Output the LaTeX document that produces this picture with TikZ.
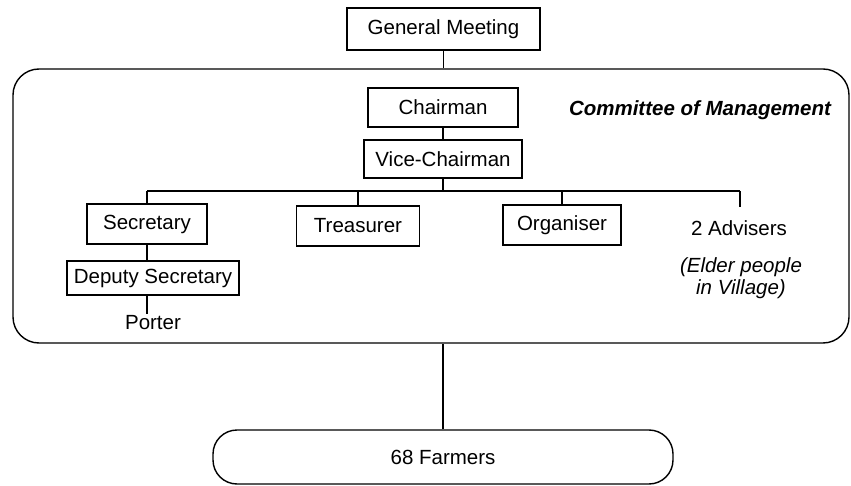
\documentclass[tikz,border=0pt]{standalone}
\usepackage{fontspec}
\setmainfont{Liberation Sans}
\begin{document}
\begin{tikzpicture}[x=1pt,y=-1pt,
  every node/.style={font=\fontsize{20.5}{22}\selectfont},
  post/.style={draw, line width=1.4pt, minimum height=#1, inner sep=0pt},
  post/.default=40pt,
  plain/.style={inner sep=2pt},
  link/.style={line width=1.4pt},
  frame/.style={draw, line width=1.4pt, rounded corners=26pt},
  pill/.style={draw, line width=1.4pt, rounded corners=24pt, minimum width=460pt, minimum height=54pt}]
  \useasboundingbox (0,0) rectangle (851,486);

  % top level
  \node[post=42pt, minimum width=193pt] (gm) at (443.5,29) {General Meeting};

  % committee frame
  \node[frame, minimum width=836pt, minimum height=274pt, inner sep=0pt] (mgmt) at (431,206) {};
  \node[font=\fontsize{20.5}{22}\selectfont\bfseries\itshape] (title) at (700,110) {Committee of Management};

  % officers
  \node[post=39pt, minimum width=150pt] (chair) at (443,107.5) {Chairman};
  \node[post=38pt, minimum width=158pt] (vice) at (443,159) {Vice-Chairman};
  \node[post, minimum width=120pt] (sec) at (147,224) {Secretary};
  \node[post=34pt, minimum width=172pt] (dep) at (153,278) {Deputy Secretary};
  \node[plain] (porter) at (153,323) {Porter};
  \node[post, minimum width=123pt] (treas) at (358,226) {Treasurer};
  \node[post, minimum width=118pt] (org) at (562,225) {Organiser};
  \node[plain] (adv) at (739,228) {2 Advisers};
  \node[plain, align=center, font=\fontsize{20.5}{22}\selectfont\itshape] (elder) at (741,278) {(Elder people\\in Village)};

  % members
  \node[pill] (farm) at (443,457) {68 Farmers};

  % branching bus under the vice-chairman
  \coordinate (busL) at (147,191);
  \coordinate (busR) at (740,191);
  \coordinate (advtop) at (740,207);

  \draw[link] (gm.south) -- (gm.south |- mgmt.north);
  \draw[link] (chair.south) -- (vice.north);
  \draw[link] (vice.south) -- (vice.south |- busL);
  \draw[link] (busL) -- (busR);
  \draw[link] (sec.north) -- (sec.north |- busL);
  \draw[link] (treas.north) -- (treas.north |- busL);
  \draw[link] (org.north) -- (org.north |- busL);
  \draw[link] (busR) -- (advtop);
  \draw[link] (sec.south) -- (sec.south |- dep.north);
  \draw[link] (dep.south -| sec.south) -- (porter.north -| sec.south);
  \draw[link] (farm.north) -- (farm.north |- mgmt.south);
\end{tikzpicture}
\end{document}
